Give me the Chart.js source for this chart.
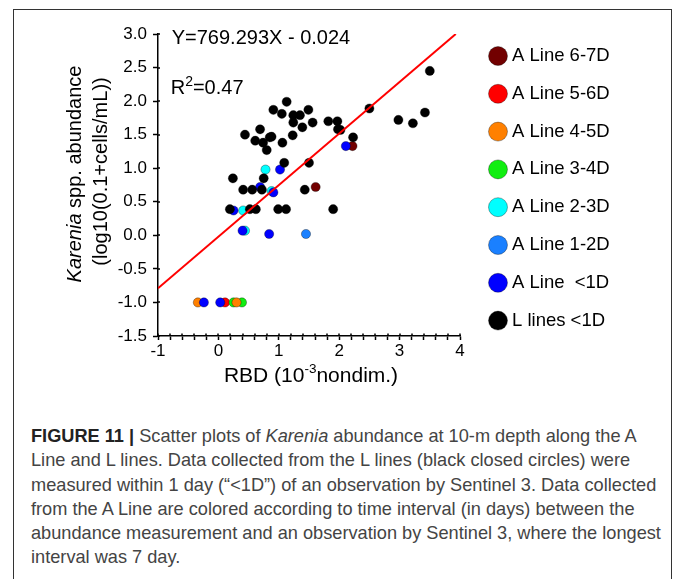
<!DOCTYPE html>
<html><head><meta charset="utf-8">
<script src="https://cdn.jsdelivr.net/npm/chart.js@4.4.0/dist/chart.umd.min.js"></script>
<style>
html,body{margin:0;padding:0;background:#fff;}
body{width:675px;height:579px;position:relative;overflow:hidden;font-family:'Liberation Sans',Arial,sans-serif;}
#frame{position:absolute;left:12.5px;top:9px;width:659px;height:620px;border:1.5px solid #333;border-bottom:none;box-sizing:border-box;}
#wrap{position:absolute;left:0;top:0;width:675px;height:400px;}
#caption{position:absolute;left:31px;top:424px;font-size:18.2px;line-height:24.3px;color:#444;white-space:nowrap;}
#caption b{color:#222;}
</style></head>
<body>
<div id="frame"></div>
<div id="wrap"><canvas id="c" width="675" height="400"></canvas></div>
<div id="caption">
<div><b>FIGURE 11 |</b> Scatter plots of <i>Karenia</i> abundance at 10-m depth along the A</div>
<div>Line and L lines. Data collected from the L lines (black closed circles) were</div>
<div>measured within 1 day (“&lt;1D”) of an observation by Sentinel 3. Data collected</div>
<div>from the A Line are colored according to time interval (in days) between the</div>
<div>abundance measurement and an observation by Sentinel 3, where the longest</div>
<div>interval was 7 day.</div>
</div>
<script>
// ---- data (x = RBD in 10^-3, y = log10 abundance) ----
const categories = ['A Line 6-7D','A Line 5-6D','A Line 4-5D','A Line 3-4D','A Line 2-3D','A Line 1-2D','A Line  <1D','L lines <1D'];
const aLine67 = [[2.22,1.33],[1.61,0.72]];
const aLine56 = [[0.11,-1.0]];
const aLine45 = [[-0.34,-1.0],[0.30,-1.0]];
const aLine34 = [[0.25,-1.0],[0.39,-1.0]];
const aLine23 = [[0.78,0.98],[0.88,0.66],[0.41,0.37],[0.44,0.07]];
const aLine12 = [[1.45,0.02]];
const aLine01 = [[2.11,1.33],[1.02,0.98],[0.69,0.72],[0.91,0.64],[0.25,0.37],[0.40,0.07],[0.84,0.02],[-0.24,-1.0],[0.03,-1.0]];
const lLines01 = [[3.50,2.45],[3.42,1.83],[3.22,1.67],[2.98,1.72],[2.50,1.89],[2.23,1.46],[2.02,1.57],[1.98,1.58],[1.97,1.70],[1.82,1.70],[1.56,1.68],[1.49,1.87],[1.39,1.61],[1.35,1.79],[1.24,1.79],[1.24,1.68],[1.23,1.49],[1.13,1.99],[1.05,1.81],[0.91,1.87],[1.06,1.38],[0.69,1.58],[0.44,1.50],[0.61,1.41],[0.74,1.38],[0.85,1.46],[0.88,1.47],[0.80,1.27],[1.09,1.08],[1.50,1.08],[0.24,0.85],[0.75,0.85],[0.41,0.68],[0.56,0.68],[0.72,0.68],[1.43,0.68],[0.19,0.39],[0.52,0.39],[0.62,0.39],[0.99,0.39],[1.12,0.39],[1.90,0.39]];
const fitLine = [[-1,-0.79],[3.93,3.0]];
const xTickLabels = ['-1','0','1','2','3','4'];
const yTickLabels = ['-1.5','-1.0','-0.5','0.0','0.5','1.0','1.5','2.0','2.5','3.0'];
const equationText = 'Y=769.293X - 0.024';
const r2Value = '0.47';

// ---- styles ----
const seriesData = [aLine67, aLine56, aLine45, aLine34, aLine23, aLine12, aLine01, lLines01];
const seriesColors = ['#720000','#ff0000','#ff8000','#11ee11','#00ffff','#1a80ff','#0000ff','#000000'];
const drawOrder = [7,6,2,5,4,3,1,0];
const FONT = "'Liberation Sans', Arial, sans-serif";
Chart.defaults.font.family = FONT;
Chart.defaults.color = '#000';

const datasets = categories.map((label, i) => ({
  label,
  data: seriesData[i].map(([x, y]) => ({x, y})),
  backgroundColor: seriesColors[i],
  borderColor: 'rgba(0,0,0,0.55)',
  borderWidth: 0.6,
  pointRadius: 4.6,
  pointHoverRadius: 4.6,
  order: drawOrder[i]
}));
datasets.push({
  label: 'fit',
  data: fitLine.map(([x, y]) => ({x, y})),
  showLine: true,
  borderColor: '#ff0000',
  backgroundColor: '#ff0000',
  borderWidth: 2,
  pointRadius: 0,
  order: -1
});

const decor = {
  id: 'decor',
  afterLayout(chart) {
    const lg = chart.legend, ca = chart.chartArea;
    const h = lg.height;
    lg.left = ca.right + 13.95; lg.width = 200; lg.right = lg.left + 200;
    lg.top = ca.top - 6.55; lg.bottom = lg.top + h;
  },
  afterDraw(chart) {
    const {ctx, chartArea: ca, scales: {x, y}} = chart;
    ctx.save();
    // inner parts of crossing tick marks
    ctx.strokeStyle = '#000'; ctx.lineWidth = 1.5;
    ctx.beginPath();
    x.ticks.forEach(t => { const p = Math.round(x.getPixelForValue(t.value)); ctx.moveTo(p, ca.bottom - 2.5); ctx.lineTo(p, ca.bottom); });
    y.ticks.forEach(t => { const p = Math.round(y.getPixelForValue(t.value)); ctx.moveTo(ca.left, p); ctx.lineTo(ca.left + 2, p); });
    ctx.stroke();
    // equation and R^2
    ctx.fillStyle = '#000';
    ctx.textBaseline = 'alphabetic'; ctx.textAlign = 'left';
    ctx.font = '20px ' + FONT;
    ctx.fillText(equationText, ca.left + 13.7, ca.top + 10);
    let rx = ca.left + 12.7, ry = ca.top + 60;
    ctx.fillText('R', rx, ry); rx += ctx.measureText('R').width;
    ctx.font = '14px ' + FONT;
    ctx.fillText('2', rx, ry - 8); rx += ctx.measureText('2').width;
    ctx.font = '20px ' + FONT;
    ctx.fillText('=' + r2Value, rx, ry);
    // x axis title
    ctx.textBaseline = 'middle';
    const parts = [['RBD (10', '21px ', 0], ['-3', '13.5px ', -7], ['nondim.)', '21px ', 0]];
    let tw = 0;
    parts.forEach(p => { ctx.font = p[1] + FONT; tw += ctx.measureText(p[0]).width; });
    let tx = (ca.left + ca.right) / 2 + 2 - tw / 2;
    parts.forEach(p => { ctx.font = p[1] + FONT; ctx.fillText(p[0], tx, ca.bottom + 40 + p[2]); tx += ctx.measureText(p[0]).width; });
    // y axis title (two lines, rotated)
    ctx.translate(75, 174);
    ctx.rotate(-Math.PI / 2);
    const l1 = [['Karenia', 'italic 20px '], [' spp. abundance', '20px ']];
    tw = 0;
    l1.forEach(p => { ctx.font = p[1] + FONT; tw += ctx.measureText(p[0]).width; });
    tx = -tw / 2;
    l1.forEach(p => { ctx.font = p[1] + FONT; ctx.fillText(p[0], tx, 0); tx += ctx.measureText(p[0]).width; });
    ctx.font = '20px ' + FONT;
    ctx.textAlign = 'center';
    ctx.fillText('(log10(0.1+cells/mL))', 2.5, 26);
    ctx.restore();
  }
};

new Chart(document.getElementById('c'), {
  type: 'scatter',
  data: {datasets},
  plugins: [decor],
  options: {
    responsive: false,
    animation: false,
    devicePixelRatio: 1,
    layout: {padding: {top: 34, right: 115, bottom: 0, left: 0}},
    plugins: {
      tooltip: {enabled: false},
      legend: {
        position: 'right',
        align: 'start',
        maxWidth: 100,
        labels: {
          usePointStyle: true,
          boxWidth: 9.5,
          boxHeight: 13.43,
          padding: 19.3,
          color: '#000',
          font: {size: 18.5, family: FONT},
          filter: item => item.datasetIndex < categories.length,
          sort: (a, b) => a.datasetIndex - b.datasetIndex
        }
      }
    },
    scales: {
      x: {
        type: 'linear', min: -1, max: 4,
        afterFit: s => { s.height = 64; },
        grid: {drawOnChartArea: false, drawTicks: true, tickLength: 4, tickWidth: 1.5, tickColor: '#000'},
        border: {display: true, color: '#000', width: 1.5},
        ticks: {
          stepSize: 0.2, autoSkip: false, maxRotation: 0, padding: 1,
          font: {size: 17},
          callback: v => { const r = Math.round(v); return Math.abs(v - r) < 1e-6 ? xTickLabels[r + 1] : ''; }
        }
      },
      y: {
        type: 'linear', min: -1.5, max: 3.0,
        afterFit: s => { s.width = 158; },
        grid: {drawOnChartArea: false, drawTicks: true, tickLength: 5, tickWidth: 1.5, tickColor: '#000'},
        border: {display: true, color: '#000', width: 1.5},
        ticks: {
          stepSize: 0.5, padding: 6,
          font: {size: 17},
          callback: v => yTickLabels[Math.round((v + 1.5) / 0.5)]
        }
      }
    }
  }
});
</script>
</body></html>
